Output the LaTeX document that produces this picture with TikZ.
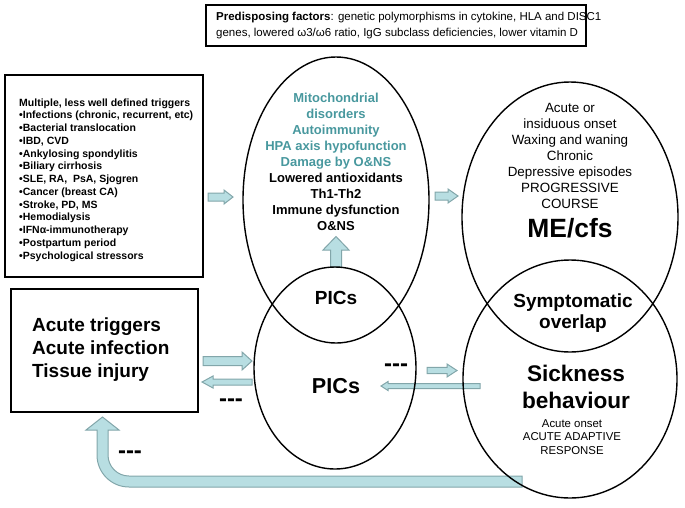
\documentclass[tikz,border=0pt]{standalone}
\usepackage{fontspec}
\setmainfont{Liberation Sans}
\newfontfamily\nolig{Liberation Sans}[Ligatures=TeXOff]
\usetikzlibrary{shapes.geometric}
\definecolor{afill}{RGB}{184,222,226}
\definecolor{aline}{RGB}{130,166,170}
\definecolor{tealtxt}{RGB}{72,152,158}
% horizontal block arrow: tail x, tip x, y, shaft half width, head half width, head length (negative for leftward)
\newcommand\harrow[6]{\draw[blockarrow] ({#1},{#3-(#4)}) -- ({#2-(#6)},{#3-(#4)}) -- ({#2-(#6)},{#3-(#5)}) -- ({#2},{#3}) -- ({#2-(#6)},{#3+(#5)}) -- ({#2-(#6)},{#3+(#4)}) -- ({#1},{#3+(#4)}) -- cycle;}
\begin{document}
\begin{tikzpicture}[x=1pt,y=-1pt,
  blockarrow/.style={draw=aline,fill=afill,line width=1pt,line join=miter},
  bigbox/.style={draw=black,line width=2.4pt,rectangle,inner sep=0pt},
  oval/.style={draw=black,line width=1.4pt,ellipse,inner sep=0pt},
  txt/.style={inner sep=0pt,align=center},
  dashlbl/.style={inner sep=0pt,font=\nolig\bfseries\fontsize{24}{24}\selectfont}]
\useasboundingbox (0,0) rectangle (685,507);

% ---------- block arrows (drawn first) ----------
\harrow{208}{233}{197}{4}{7}{9}
\harrow{435}{458}{196}{4}{7}{10}
\harrow{203}{252}{361}{4.5}{9}{10}
\harrow{252}{202}{382}{3}{6}{-11}
\harrow{427}{457}{370.5}{3.2}{6.5}{10}
\harrow{480}{381}{386}{2.5}{4.5}{-7}
% upward arrow between the middle ovals
\draw[blockarrow] (330.5,267) -- (330.5,250) -- (323,250) -- (336,236.5) -- (349,250) -- (341.5,250) -- (341.5,267) -- cycle;
% feedback arrow from sickness behaviour back to acute triggers
\draw[blockarrow] (522,476) -- (129,476) .. controls (117.4,476) and (108,466.6) .. (108,455)
  -- (108,430) -- (119,430) -- (102.5,417) -- (86,430) -- (97,430) -- (97,455)
  .. controls (97,472.7) and (111.3,487) .. (129,487) -- (522,487) -- cycle;

% ---------- boxes ----------
\node[draw=black,line width=1.6pt,rectangle,minimum width=380pt,minimum height=41pt,inner sep=0pt] (pre) at (396,25.5) {};
\node[txt,anchor=west,align=left,font=\fontsize{11.5}{16}\selectfont] (pretxt) at (216,26)
  {\textbf{Predisposing factors}: genetic polymorphisms in cytokine, HLA and DISC1\\
   genes, lowered ω3/ω6 ratio, IgG subclass deficiencies, lower vitamin D};

\node[bigbox,minimum width=198pt,minimum height=202pt] (trig) at (104,176) {};
\node[txt,anchor=west,align=left,font=\bfseries\fontsize{10.5}{12.75}\selectfont] (trigtxt) at (19,180)
  {Multiple, less well defined triggers\\
   •Infections (chronic, recurrent, etc)\\
   •Bacterial translocation\\
   •IBD, CVD\\
   •Ankylosing spondylitis\\
   •Biliary cirrhosis\\
   •SLE, RA,\ \ PsA, Sjogren\\
   •Cancer (breast CA)\\
   •Stroke, PD, MS\\
   •Hemodialysis\\
   •IFNα-immunotherapy\\
   •Postpartum period\\
   •Psychological stressors};

\node[bigbox,minimum width=187pt,minimum height=123pt] (acute) at (104.5,350.5) {};
\node[txt,anchor=west,align=left,font=\bfseries\fontsize{19}{23}\selectfont] (acutetxt) at (32,350)
  {Acute triggers\\Acute infection\\Tissue injury};

% ---------- ovals ----------
\node[oval,minimum width=186pt,minimum height=286pt] (chronic) at (336,200) {};
\node[oval,minimum width=162pt,minimum height=202pt] (pics) at (335,368) {};
\node[oval,minimum width=216pt,minimum height=270pt] (me) at (570,217) {};
\node[oval,minimum width=214pt,minimum height=238pt] (sick) at (570,379) {};

% ---------- oval texts ----------
\node[txt,font=\bfseries\fontsize{13}{16}\selectfont] (chrtxt) at (336,162)
  {\textcolor{tealtxt}{Mitochondrial}\\
   \textcolor{tealtxt}{disorders}\\
   \textcolor{tealtxt}{Autoimmunity}\\
   \textcolor{tealtxt}{HPA axis hypofunction}\\
   \textcolor{tealtxt}{Damage by O\&NS}\\
   Lowered antioxidants\\Th1-Th2\\Immune dysfunction\\O\&NS};
\node[txt,font=\bfseries\fontsize{19}{19}\selectfont] (pics1) at (336,298) {PICs};
\node[txt,font=\bfseries\fontsize{21.6}{21.6}\selectfont] (pics2) at (336,386) {PICs};

\node[txt,font=\fontsize{13.4}{16}\selectfont] (metxt) at (570,156)
  {Acute or\\insiduous onset\\Waxing and waning\\Chronic\\Depressive episodes\\PROGRESSIVE\\COURSE};
\node[txt,font=\bfseries\fontsize{26.4}{26.4}\selectfont] (metitle) at (570,228) {ME/cfs};

\node[txt,font=\bfseries\fontsize{19}{21}\selectfont] (overlap) at (573,313) {Symptomatic\\overlap};
\node[txt,font=\bfseries\fontsize{22.6}{27}\selectfont] (sicktitle) at (576,387) {Sickness\\behaviour};
\node[txt,font=\fontsize{11.4}{13.5}\selectfont] (sicktxt) at (572,437)
  {Acute onset\\ACUTE ADAPTIVE\\RESPONSE};

% ---------- minus labels ----------
\node[dashlbl] (m1) at (231,403) {---};
\node[dashlbl] (m2) at (396,368) {---};
\node[dashlbl] (m3) at (130,455) {---};
\end{tikzpicture}
\end{document}
